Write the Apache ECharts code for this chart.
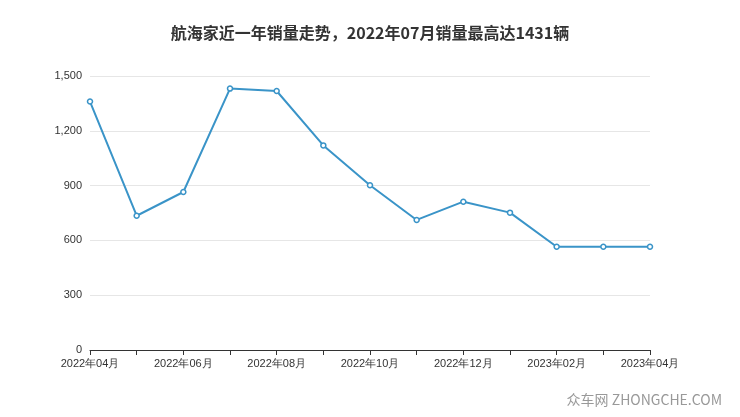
<!DOCTYPE html>
<html><head><meta charset="utf-8">
<script src="https://cdn.jsdelivr.net/npm/echarts@6/dist/echarts.min.js"></script>
<style>html,body{margin:0;padding:0;background:#fff}#c{width:740px;height:417px}</style>
</head><body><div id="c"></div>
<script>
const categories = ['2022年04月','2022年05月','2022年06月','2022年07月','2022年08月','2022年09月','2022年10月','2022年11月','2022年12月','2023年01月','2023年02月','2023年03月','2023年04月'];
const sales = [1360, 735, 865, 1431, 1418, 1120, 902, 712, 812, 752, 565, 565, 565];
const chart = echarts.init(document.getElementById('c'));
chart.setOption({
  title:{text:'航海家近一年销量走势，2022年07月销量最高达1431辆',left:'center',top:20,
    textStyle:{fontSize:16,fontWeight:'bold',color:'#333',fontFamily:'Noto Sans CJK SC'}},
  graphic:[{type:'text',right:18,bottom:10,style:{text:'众车网 ZHONGCHE.COM',fill:'#999',fontSize:14,fontFamily:'Noto Sans CJK SC'}}],
  grid:{left:90,right:90,top:76,bottom:67},
  xAxis:{type:'category',data:categories,boundaryGap:false,
    axisLine:{lineStyle:{color:'#333'}},axisTick:{show:true,interval:0,lineStyle:{color:'#333'}},
    axisLabel:{interval:1,color:'#333',fontSize:11}},
  yAxis:{type:'value',min:0,max:1500,interval:300,
    axisLabel:{color:'#333',fontSize:11},
    splitLine:{lineStyle:{color:'#e6e6e6'}}},
  series:[{type:'line',data:sales,symbol:'circle',symbolSize:5,showAllSymbol:true,
    itemStyle:{color:'#fff',borderColor:'#3a94c8',borderWidth:1.5},
    lineStyle:{color:'#3a94c8',width:2}}]
});
</script></body></html>
